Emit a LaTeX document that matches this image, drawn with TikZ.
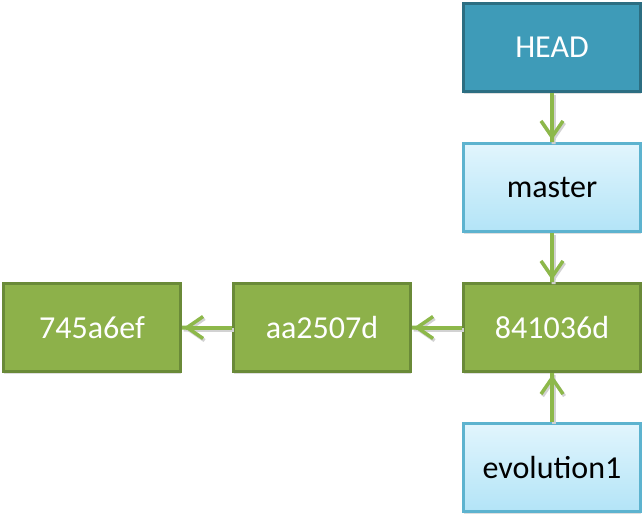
\documentclass[tikz,border=0pt]{standalone}
\usepackage{fontspec}
\setmainfont{Carlito}
\usepackage{tikz}
\usetikzlibrary{arrows.meta,shadows}
\usepackage{xcolor}
\definecolor{headblue}{HTML}{3E9BB8}
\definecolor{headedge}{HTML}{2C6E82}
\definecolor{refpale}{HTML}{E1F5FD}
\definecolor{refsky}{HTML}{B3E4F7}
\definecolor{refedge}{HTML}{5DB3CF}
\definecolor{commitgreen}{HTML}{8DB14A}
\definecolor{commitedge}{HTML}{6A8A38}
\definecolor{linkgreen}{HTML}{8DB84A}

\begin{document}
\begin{tikzpicture}[x=1pt,y=1pt,font=\fontsize{32}{38}\selectfont,
  box/.style={minimum width=177pt,minimum height=88pt,line width=3pt,inner sep=0pt,
    drop shadow={shadow xshift=0pt,shadow yshift=-2.5pt,opacity=0.25,fill=gray}},
  headbox/.style={box,draw=headedge,fill=headblue,text=white},
  refbox/.style={box,draw=refedge,top color=refpale,bottom color=refsky,text=black},
  commitbox/.style={box,draw=commitedge,fill=commitgreen,text=white},
  link/.style={draw=linkgreen,line width=4pt,
    -{Straight Barb[length=16pt,width=22pt,line width=3.5pt] Butt Cap}},
  linkshadow/.style={link,draw=gray!35,transform canvas={xshift=1.5pt,yshift=-2pt}}]
\useasboundingbox (0,0) rectangle (644,515);
% refs
\node[headbox] (head) at (552,467.5) {HEAD};
\node[refbox] (master) at (552,327.5) {master};
\node[refbox] (evo) at (552,47.5) {evolution1};
% commits
\node[commitbox] (c841) at (552,187.5) {841036d};
\node[commitbox] (caa) at (322,187.5) {aa2507d};
\node[commitbox] (c745) at (92,187.5) {745a6ef};
% links
\foreach \from/\to in {head/master,master/c841,evo/c841,c841/caa,caa/c745}{
  \draw[linkshadow] (\from) -- (\to);
  \draw[link] (\from) -- (\to);
}
\end{tikzpicture}
\end{document}
